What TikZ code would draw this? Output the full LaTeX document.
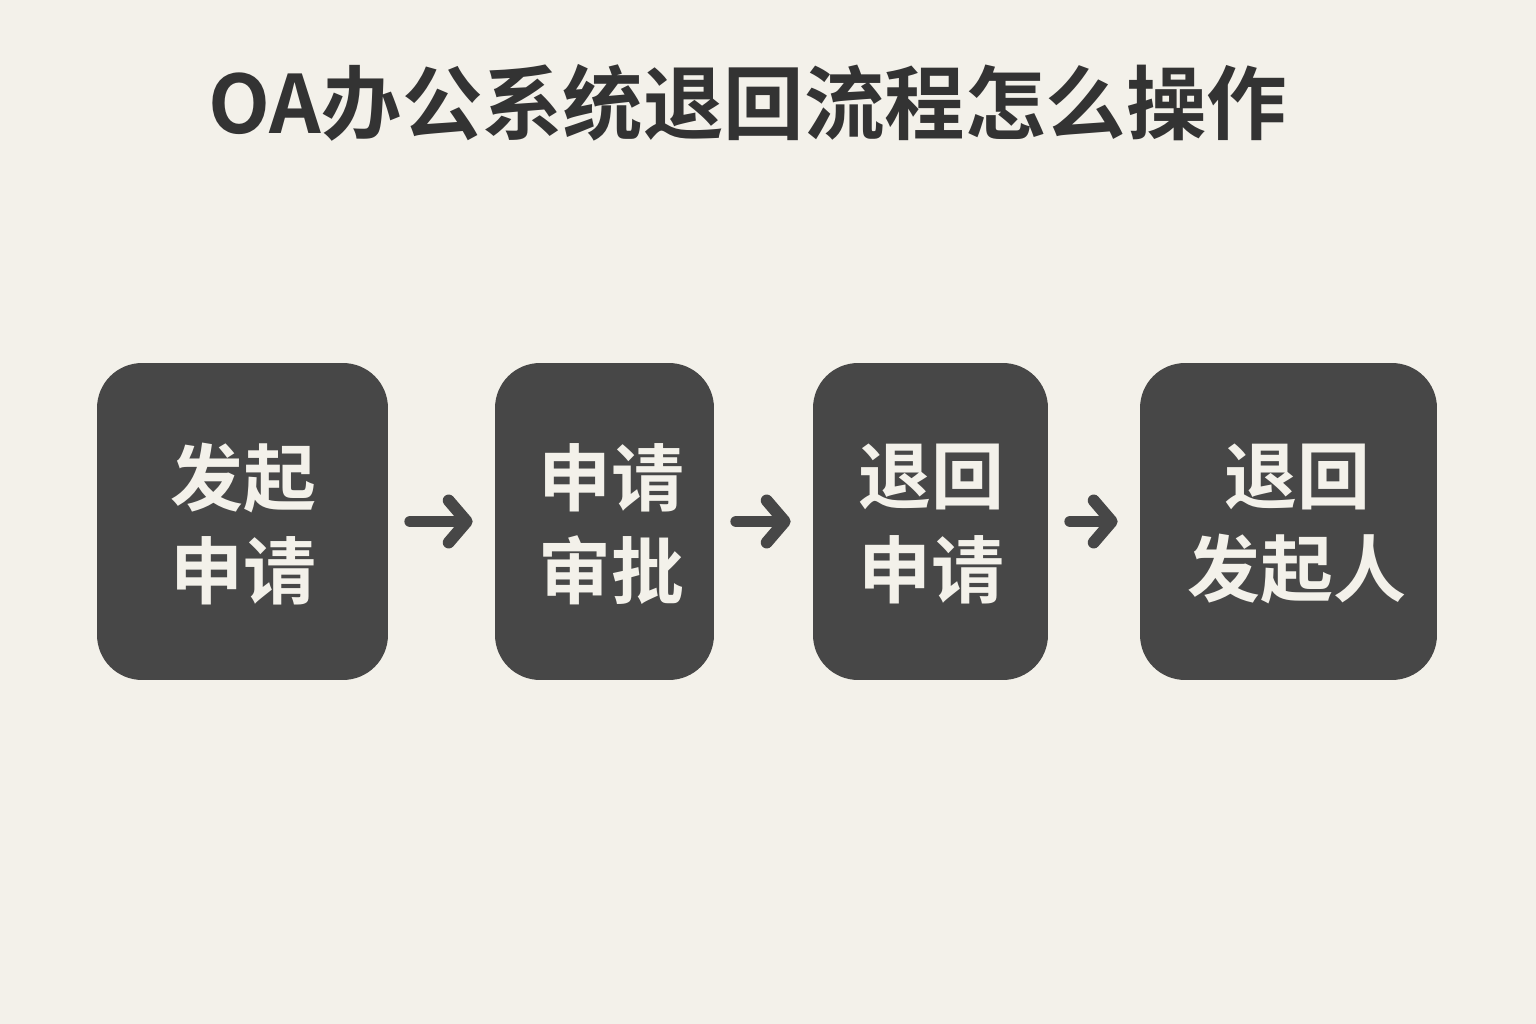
\documentclass[tikz,border=0pt]{standalone}
\usepackage{fontspec}
\usetikzlibrary{arrows.meta}
\newfontfamily\cjkbold{Noto Sans CJK SC Bold}
\definecolor{bg}{HTML}{F3F1EA}
\definecolor{boxc}{HTML}{474747}
\definecolor{titlec}{HTML}{333333}
\begin{document}
\begin{tikzpicture}[x=0.02cm,y=-0.02cm,
  stepbox/.style={fill=boxc,rounded corners=0.9cm,inner sep=0pt,draw=none,minimum height=6.34cm},
  boxtext/.style={text=bg,font=\cjkbold\fontsize{41.5}{53}\selectfont,align=center,inner sep=0pt},
  flow/.style={draw=boxc,line width=6.8pt,line cap=round,line join=round,
    -{Straight Barb[length=0.36cm,width=0.84cm,round]},shorten <=0.44cm,shorten >=0.44cm}]
\fill[bg] (0,0) rectangle (1536,1024);
\useasboundingbox (0,0) rectangle (1536,1024);
\node[text=titlec,font=\cjkbold\fontsize{45.8}{54}\selectfont] (title) at (748,103) {OA办公系统退回流程怎么操作};
\node[stepbox,minimum width=5.82cm] (b1) at (242.5,521.5) {};
\node[stepbox,minimum width=4.38cm] (b2) at (604.5,521.5) {};
\node[stepbox,minimum width=4.70cm] (b3) at (930.5,521.5) {};
\node[stepbox,minimum width=5.94cm] (b4) at (1288.5,521.5) {};
\node[boxtext] (t1) at (243,524) {发起\\申请};
\node[boxtext] (t2) at (611,524) {申请\\审批};
\node[boxtext] (t3) at (931,524) {退回\\申请};
\node[boxtext] (t4) at (1297,524) {退回\\发起人};
\draw[flow] (b1.east) -- (b2.west);
\draw[flow] (b2.east) -- (b3.west);
\draw[flow] (b3.east) -- (b4.west);
\end{tikzpicture}
\end{document}
